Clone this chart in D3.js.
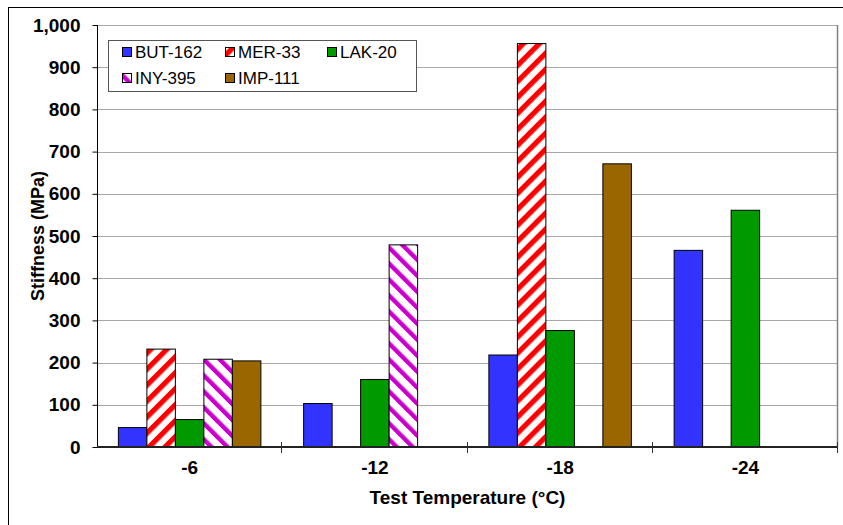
<!DOCTYPE html>
<html>
<head>
<meta charset="utf-8">
<script src="https://cdn.jsdelivr.net/npm/d3@7"></script>
<style>
  html, body { margin: 0; padding: 0; background: #fff; }
  svg { display: block; font-family: "Liberation Sans", Arial, sans-serif; }
</style>
</head>
<body>
<svg id="chart" width="843" height="525"></svg>
<script>
// Test temperatures (°C) on the category axis
const temperatures = ["-6", "-12", "-18", "-24"];
// Mixes, in legend / bar order
const mixes = ["BUT-162", "MER-33", "LAK-20", "INY-395", "IMP-111"];
// Stiffness (MPa) per mix, one value per temperature (null = not tested)
const but162 = [46, 103, 218, 466];
const mer33  = [232, null, 956, null];
const lak20  = [65, 160, 276, 561];
const iny395 = [208, 479, null, null];
const imp111 = [204, null, 671, null];
const yTicks = [0, 100, 200, 300, 400, 500, 600, 700, 800, 900, 1000];

const seriesValues = [but162, mer33, lak20, iny395, imp111];
const colors = ["#3333ff", "#ff0000", "#009900", "#cc00cc", "#996600"];

const svg = d3.select("#chart");
const m = { left: 97, right: 838, top: 25, bottom: 447 };

// Hatch patterns for MER-33 (upward diagonal) and INY-395 (downward diagonal)
const defs = svg.append("defs");
function hatch(id, color, angle, stripe) {
  const p = defs.append("pattern")
    .attr("id", id)
    .attr("patternUnits", "userSpaceOnUse")
    .attr("width", 11.3).attr("height", 11.3)
    .attr("patternTransform", `rotate(${angle})`);
  p.append("rect").attr("width", 11.3).attr("height", 11.3).attr("fill", "#fff");
  p.append("rect").attr("width", stripe).attr("height", 11.3).attr("fill", color);
}
hatch("hatch-mer", "#ff0000", 45, 5.2);
hatch("hatch-iny", "#cc00cc", -45, 4.4);
const fills = ["#3333ff", "url(#hatch-mer)", "#009900", "url(#hatch-iny)", "#996600"];

// Outer chart frame
svg.append("rect")
  .attr("x", 8.5).attr("y", 7.5).attr("width", 840).attr("height", 530)
  .attr("fill", "none").attr("stroke", "#000").attr("stroke-width", 1);

const x0 = d3.scaleBand().domain(temperatures).range([m.left, m.right]).padding(0);
const bw = x0.bandwidth();
const gap = bw * 1.5 / 6.5;
const x1 = d3.scaleBand().domain(mixes).range([gap / 2, bw - gap / 2]).padding(0);
const y = d3.scaleLinear().domain([0, 1000]).range([m.bottom, m.top]);

// Horizontal gridlines
svg.append("g")
  .selectAll("line")
  .data(yTicks.filter(d => d > 0))
  .join("line")
  .attr("x1", m.left).attr("x2", m.right)
  .attr("y1", d => Math.round(y(d)) + 0.5).attr("y2", d => Math.round(y(d)) + 0.5)
  .attr("stroke", "#a8a8a8").attr("stroke-width", 1);

// Right edge of plot area
svg.append("line")
  .attr("x1", m.right - 0.5).attr("x2", m.right - 0.5)
  .attr("y1", m.top).attr("y2", m.bottom)
  .attr("stroke", "#808080").attr("stroke-width", 1.5);

// Bars
const groups = svg.append("g")
  .selectAll("g")
  .data(temperatures)
  .join("g")
  .attr("transform", d => `translate(${x0(d)},0)`);

groups.selectAll("rect")
  .data((t, ti) => mixes.map((s, si) => ({ s, si, v: seriesValues[si][ti] })).filter(d => d.v != null))
  .join("rect")
  .attr("x", d => x1(d.s))
  .attr("y", d => y(d.v))
  .attr("width", x1.bandwidth())
  .attr("height", d => y(0) - y(d.v))
  .attr("fill", d => fills[d.si])
  .attr("stroke", "#000")
  .attr("stroke-width", 1);

// Y axis
const yAxis = d3.axisLeft(y)
  .tickValues(yTicks)
  .tickSize(5)
  .tickPadding(12)
  .tickFormat(d3.format(","));
const gy = svg.append("g")
  .attr("transform", `translate(${m.left + 0.5},0)`)
  .call(yAxis);
gy.select(".domain").attr("stroke", "#000").attr("d", `M0,${m.top}V${m.bottom + 1}`);
gy.selectAll(".tick line").attr("stroke", "#000");
gy.selectAll(".tick text")
  .attr("font-size", 19).attr("font-weight", "bold").attr("fill", "#000")
  .attr("font-family", "Liberation Sans, Arial, sans-serif");

// X axis: category labels centred, ticks at category boundaries
const xAxis = d3.axisBottom(x0).tickSize(0).tickPadding(14);
const gx = svg.append("g")
  .attr("transform", `translate(0,${m.bottom})`)
  .call(xAxis);
gx.select(".domain").attr("stroke", "#222").attr("stroke-width", 2)
  .attr("d", `M${m.left},0H${m.right}`);
gx.selectAll(".tick text")
  .attr("font-size", 19).attr("font-weight", "bold").attr("fill", "#000")
  .attr("font-family", "Liberation Sans, Arial, sans-serif");
const boundaries = temperatures.slice(1).map(t => x0(t)).concat([m.right]);
gx.selectAll(".bound")
  .data(boundaries)
  .join("line")
  .attr("class", "bound")
  .attr("x1", d => Math.round(d) - 0.5).attr("x2", d => Math.round(d) - 0.5)
  .attr("y1", -5).attr("y2", 6)
  .attr("stroke", "#333").attr("stroke-width", 1);

// Axis titles
svg.append("text")
  .attr("x", (m.left + m.right) / 2).attr("y", 504)
  .attr("text-anchor", "middle")
  .attr("font-size", 19).attr("font-weight", "bold")
  .text("Test Temperature (°C)");

svg.append("text")
  .attr("transform", `translate(44,${(m.top + m.bottom) / 2}) rotate(-90)`)
  .attr("text-anchor", "middle")
  .attr("font-size", 18).attr("font-weight", "bold")
  .text("Stiffness (MPa)");

// Legend
const legend = svg.append("g");
legend.append("rect")
  .attr("x", 108.5).attr("y", 40.5).attr("width", 308).attr("height", 51)
  .attr("fill", "#fff").attr("stroke", "#555").attr("stroke-width", 1);
const legendPos = [
  { x: 122, y: 52 }, { x: 225, y: 52 }, { x: 327, y: 52 },
  { x: 122, y: 78 }, { x: 225, y: 78 }
];
const items = legend.selectAll("g.item")
  .data(mixes)
  .join("g")
  .attr("class", "item")
  .attr("transform", (d, i) => `translate(${legendPos[i].x},${legendPos[i].y})`);
items.append("rect")
  .attr("x", 0.5).attr("y", -4.5).attr("width", 9).attr("height", 9)
  .attr("fill", (d, i) => fills[i])
  .attr("stroke", "#000").attr("stroke-width", 1);
items.append("text")
  .attr("x", 13).attr("y", 6)
  .attr("font-size", 17)
  .text(d => d);
</script>
</body>
</html>
